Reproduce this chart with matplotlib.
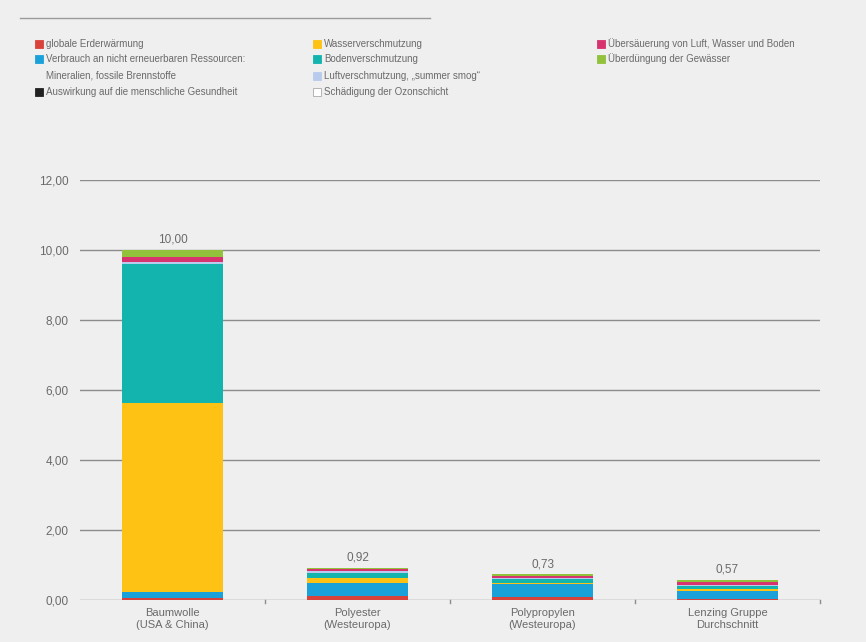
import numpy as np
import matplotlib.pyplot as plt
from matplotlib.patches import Rectangle

plt.rcParams['font.family'] = ['Liberation Sans', 'DejaVu Sans']

# categories and stacked values (bottom -> top)
categories = ['Baumwolle\n(USA & China)', 'Polyester\n(Westeuropa)',
              'Polypropylen\n(Westeuropa)', 'Lenzing Gruppe\nDurchschnitt']
totals = [10.00, 0.92, 0.73, 0.57]

erderwaermung = [0.05, 0.12, 0.10, 0.03]
ressourcen    = [0.19, 0.38, 0.35, 0.22]
gesundheit    = [0.00, 0.00, 0.00, 0.00]
wasser        = [5.40, 0.12, 0.04, 0.06]
boden         = [3.96, 0.16, 0.10, 0.08]
luft          = [0.05, 0.04, 0.03, 0.04]
ozon          = [0.00, 0.00, 0.00, 0.00]
uebersaeuerung = [0.15, 0.07, 0.08, 0.08]
ueberduengung  = [0.20, 0.03, 0.03, 0.06]

series = [erderwaermung, ressourcen, gesundheit, wasser, boden,
          luft, ozon, uebersaeuerung, ueberduengung]
colors = ['#d9413b', '#1ba1d9', '#222222', '#fdc213', '#14b4ae',
          '#b9cbec', '#ffffff', '#d7336f', '#92c13c']

legend_labels = ['globale Erderwärmung',
                 'Verbrauch an nicht erneuerbaren Ressourcen:\nMineralien, fossile Brennstoffe',
                 'Auswirkung auf die menschliche Gesundheit',
                 'Wasserverschmutzung', 'Bodenverschmutzung',
                 'Luftverschmutzung, „summer smog“', 'Schädigung der Ozonschicht',
                 'Übersäuerung von Luft, Wasser und Boden', 'Überdüngung der Gewässer']

yticks = [0, 2, 4, 6, 8, 10, 12]
txt = '#6a6a6a'
bg = '#efefef'

W, H = 866, 642
fig = plt.figure(figsize=(W / 100, H / 100), dpi=100)
fig.patch.set_facecolor(bg)
ax = fig.add_axes([80 / W, 1 - 600 / H, 740 / W, 420 / H])
ax.set_facecolor(bg)

x = np.arange(len(categories))
bottom = np.zeros(len(categories))
for vals, c in zip(series, colors):
    ax.bar(x, vals, bottom=bottom, width=0.55, color=c, linewidth=0, zorder=3)
    bottom += np.array(vals)

for xi, t in zip(x, totals):
    ax.text(xi, t + 0.12, f'{t:.2f}'.replace('.', ','), ha='center', va='bottom',
            fontsize=8.5, color=txt)

ax.set_xlim(-0.5, len(categories) - 0.5)
ax.set_ylim(0, 12)
for yt in yticks:
    ax.axhline(yt, color='#8c8c8c', lw=1.0, zorder=1)
ax.set_yticks(yticks)
ax.set_yticklabels([f'{v:.2f}'.replace('.', ',') for v in yticks], fontsize=8.5, color=txt)
ax.tick_params(axis='y', length=0, pad=8)
ax.set_xticks(x)
ax.set_xticklabels(categories, fontsize=8, color=txt, linespacing=1.2)
ax.tick_params(axis='x', length=0, pad=6)
for b in np.arange(0.5, len(categories), 1.0):
    ax.plot([b, b], [0, -0.08], color='#8c8c8c', lw=1, clip_on=False)
for s in ax.spines.values():
    s.set_visible(False)

# legend drawn by hand in three columns
rows = [44, 59, 92, 44, 59, 76, 92, 44, 59]
cols = [35, 35, 35, 313, 313, 313, 313, 597, 597]
for lab, c, cx, ry in zip(legend_labels, colors, cols, rows):
    fig.patches.append(Rectangle((cx / W, 1 - (ry + 4) / H), 8 / W, 8 / H,
                                 transform=fig.transFigure, facecolor=c,
                                 edgecolor='#aaaaaa' if c == '#ffffff' else c, lw=0.6))
    for k, line in enumerate(lab.split('\n')):
        fig.text((cx + 11) / W, 1 - (ry + 17 * k) / H, line, fontsize=7, color=txt,
                 va='center')

fig.add_artist(plt.Line2D([20 / W, 430 / W], [1 - 18 / H] * 2, color='#9a9a9a', lw=1))

fig.savefig('out.png', dpi=100, facecolor=bg)
